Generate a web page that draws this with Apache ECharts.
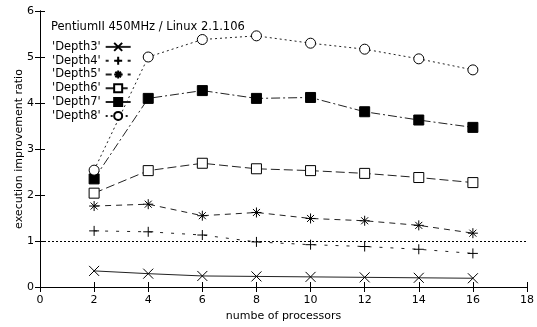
<!DOCTYPE html>
<html><head><meta charset="utf-8">
<script src="https://cdn.jsdelivr.net/npm/echarts@6/dist/echarts.min.js"></script>
<style>html,body{margin:0;padding:0;background:#fff}#c{width:537px;height:327px}</style>
</head><body><div id="c"></div>
<script>
const xValues = [2, 4, 6, 8, 10, 12, 14, 16];
const depth3 = [0.35, 0.29, 0.24, 0.23, 0.22, 0.21, 0.20, 0.19];
const depth4 = [1.22, 1.20, 1.13, 0.98, 0.92, 0.88, 0.82, 0.73];
const depth5 = [1.76, 1.80, 1.55, 1.62, 1.49, 1.44, 1.34, 1.17];
const depth6 = [2.04, 2.53, 2.69, 2.57, 2.53, 2.47, 2.38, 2.27];
const depth7 = [2.35, 4.10, 4.27, 4.10, 4.12, 3.81, 3.63, 3.47];
const depth8 = [2.54, 5.00, 5.38, 5.46, 5.30, 5.17, 4.96, 4.72];
const seriesNames = ["'Depth3'", "'Depth4'", "'Depth5'", "'Depth6'", "'Depth7'", "'Depth8'"];
const xTicks = [0, 2, 4, 6, 8, 10, 12, 14, 16, 18];
const yTicks = [0, 1, 2, 3, 4, 5, 6];
const titleText = 'PentiumII 450MHz / Linux 2.1.106';
const xName = 'numbe of processors';
const yName = 'execution improvement ratio';
const refValue = 1;

const FONT = 'DejaVu Sans';
const pts = arr => arr.map((v, i) => [xValues[i], v]);
const crossPath = 'path://M0,0L10,10M10,0L0,10';
const plusPath = 'path://M5,0L5,10M0,5L10,5';
const starPath = 'path://M5,0L5,10M0,5L10,5M1.5,1.5L8.5,8.5M8.5,1.5L1.5,8.5';

function mk(name, data, symbol, size, fill, dash) {
  return {
    name, type: 'line', data: pts(data), symbol, symbolSize: size,
    itemStyle: { color: fill, borderColor: '#000', borderWidth: 1 },
    lineStyle: { color: '#222', width: 1, type: dash },
    emphasis: { disabled: true }, animation: false
  };
}
const series = [
  mk(seriesNames[0], depth3, crossPath, 10, 'rgba(0,0,0,0)', 'solid'),
  mk(seriesNames[1], depth4, plusPath, 10, 'rgba(0,0,0,0)', [3, 8]),
  mk(seriesNames[2], depth5, starPath, 10, 'rgba(0,0,0,0)', [6, 5]),
  mk(seriesNames[3], depth6, 'rect', 10, '#fff', [9, 4]),
  mk(seriesNames[4], depth7, 'rect', 10, '#000', [9, 3, 2, 3]),
  mk(seriesNames[5], depth8, 'circle', 10, '#fff', [2, 3])
];
series[0].markLine = {
  silent: true, symbol: 'none', label: { show: false },
  lineStyle: { color: '#000', type: [2, 2], width: 1 },
  data: [{ yAxis: refValue }], animation: false
};

const chart = echarts.init(document.getElementById('c'), null, { renderer: 'canvas' });
chart.setOption({
  backgroundColor: '#fff',
  animation: false,
  textStyle: { fontFamily: FONT },
  title: { text: titleText, left: 46, top: 16, textStyle: { fontFamily: FONT, fontSize: 11.5, fontWeight: 'normal', color: '#000' } },
  legend: {
    orient: 'vertical', left: 47, top: 35, align: 'right', itemWidth: 25, itemHeight: 10, itemGap: 0,
    textStyle: { fontFamily: FONT, fontSize: 11.5, color: '#000', lineHeight: 13.8 },
    data: seriesNames
  },
  grid: { left: 40, right: 10, top: 11, bottom: 40, containLabel: false, outerBoundsMode: 'none' },
  xAxis: [{
    type: 'value', min: 0, max: 18, interval: 2,
    name: xName, nameLocation: 'middle', nameGap: 23,
    nameTextStyle: { fontFamily: FONT, fontSize: 11, color: '#000' },
    axisLine: { onZero: false, lineStyle: { color: '#000', width: 1 } },
    axisTick: { inside: true, length: 5, lineStyle: { color: '#000' } },
    axisLabel: { fontFamily: FONT, fontSize: 11, color: '#000', margin: 8,
      formatter: v => xTicks.includes(v) ? String(v) : '' },
    splitLine: { show: false }
  }, {
    type: 'value', min: 0, max: 18, interval: 2, position: 'top',
    axisLine: { lineStyle: { color: '#000', width: 1 } },
    axisTick: { inside: true, length: 5, lineStyle: { color: '#000' } },
    axisLabel: { show: false }, splitLine: { show: false }
  }],
  yAxis: [{
    type: 'value', min: 0, max: 6, interval: 1,
    name: yName, nameLocation: 'middle', nameGap: 15, nameRotate: 90, nameMoveOverlap: false,
    nameTextStyle: { fontFamily: FONT, fontSize: 11, color: '#000' },
    axisLine: { show: true, onZero: false, lineStyle: { color: '#000', width: 1 } },
    axisTick: { show: true, inside: true, length: 5, lineStyle: { color: '#000' } },
    axisLabel: { fontFamily: FONT, fontSize: 11, color: '#000', margin: 6,
      formatter: v => yTicks.includes(v) ? String(v) : '' },
    splitLine: { show: false }
  }, {
    type: 'value', min: 0, max: 6, interval: 1, position: 'right',
    axisLine: { show: true, lineStyle: { color: '#000', width: 1 } },
    axisTick: { show: true, inside: true, length: 5, lineStyle: { color: '#000' } },
    axisLabel: { show: false }, splitLine: { show: false }
  }],
  series
});
</script></body></html>
